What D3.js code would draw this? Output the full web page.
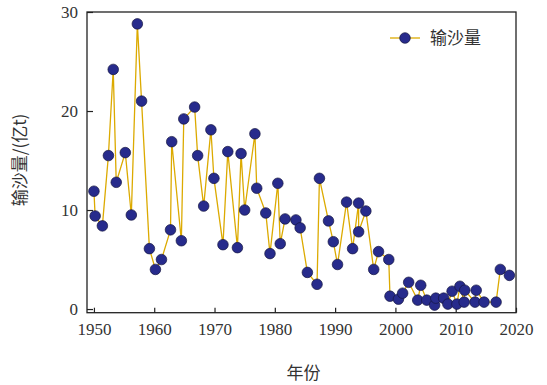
<!DOCTYPE html>
<html>
<head>
<meta charset="utf-8">
<script src="https://cdn.jsdelivr.net/npm/d3@7"></script>
<style>
  body { margin: 0; background: #fff; }
  text { fill: #333; }
</style>
</head>
<body>
<div id="app"></div>
<script>
// 年份（按图读取，含小数位置）
const years = [
  1950.0, 1950.2, 1951.4, 1952.4, 1953.2, 1953.7, 1955.2, 1956.2, 1957.2, 1957.9,
  1959.2, 1960.2, 1961.2, 1962.7, 1962.9, 1964.5, 1964.9, 1966.7, 1967.2, 1968.2,
  1969.4, 1969.9, 1971.4, 1972.2, 1973.8, 1974.4, 1975.0, 1976.7, 1977.0, 1978.5,
  1979.2, 1980.5, 1980.9, 1981.7, 1983.5, 1984.2, 1985.4, 1987.0, 1987.4, 1988.9,
  1989.7, 1990.4, 1991.9, 1992.9, 1993.9, 1993.9, 1995.1, 1996.4, 1997.2, 1998.9,
  1999.1, 2000.5, 2001.2, 2002.2, 2003.7, 2004.2, 2005.2, 2006.5, 2006.7, 2008.0,
  2008.7, 2009.4, 2010.2, 2010.7, 2011.4, 2011.5, 2013.2, 2013.4, 2014.7, 2016.7,
  2017.4, 2018.9
];
// 输沙量（亿t）
const sediment = [
  11.9, 9.4, 8.4, 15.5, 24.2, 12.8, 15.8, 9.5, 28.8, 21.0,
  6.1, 4.0, 5.0, 8.0, 16.9, 6.9, 19.2, 20.4, 15.5, 10.4,
  18.1, 13.2, 6.5, 15.9, 6.2, 15.7, 10.0, 17.7, 12.2, 9.7,
  5.6, 12.7, 6.6, 9.1, 9.0, 8.2, 3.7, 2.5, 13.2, 8.9,
  6.8, 4.5, 10.8, 6.1, 10.7, 7.8, 9.9, 4.0, 5.8, 5.0,
  1.3, 1.0, 1.6, 2.7, 0.9, 2.4, 0.9, 0.4, 1.1, 1.1,
  0.5, 1.8, 0.5, 2.3, 0.7, 1.9, 0.7, 1.9, 0.7, 0.7,
  4.0, 3.4
];
const xTicks = [1950, 1960, 1970, 1980, 1990, 2000, 2010, 2020];
const yTicks = [0, 10, 20, 30];
const seriesName = "输沙量";
const xTitle = "年份";
const yTitle = "输沙量/(亿t)";

const width = 547, height = 385;
const plot = { left: 87, right: 516, top: 12, bottom: 312.7 };

const data = years.map((y, i) => ({ year: y, value: sediment[i] }));

const svg = d3.select("#app").append("svg")
  .attr("width", width)
  .attr("height", height);

const x = d3.scaleLinear().domain([1948.85, 2020]).range([plot.left, plot.right]);
const y = d3.scaleLinear().domain([-0.37, 30]).range([plot.bottom, plot.top]);

const serif = "'Liberation Serif', 'DejaVu Serif', serif";
const cjk = "'Noto Sans CJK SC', sans-serif";

// 坐标轴（刻度朝内）
const xAxis = svg.append("g")
  .attr("transform", `translate(0,${plot.bottom})`)
  .call(d3.axisBottom(x).tickValues(xTicks).tickFormat(d3.format("d"))
    .tickSizeInner(-5).tickSizeOuter(0).tickPadding(10));
const yAxis = svg.append("g")
  .attr("transform", `translate(${plot.left},0)`)
  .call(d3.axisLeft(y).tickValues(yTicks).tickSizeInner(-6).tickSizeOuter(0).tickPadding(9));

[xAxis, yAxis].forEach(g => {
  g.select(".domain").remove();
  g.selectAll(".tick line").attr("stroke", "#222").attr("stroke-width", 1.2);
  g.selectAll(".tick text")
    .attr("fill", "#333")
    .style("font-family", serif)
    .style("font-size", "17px");
});

// 外框
svg.append("rect")
  .attr("x", plot.left).attr("y", plot.top)
  .attr("width", plot.right - plot.left)
  .attr("height", plot.bottom - plot.top)
  .attr("fill", "none")
  .attr("stroke", "#222")
  .attr("stroke-width", 1.3);

// 折线
const line = d3.line().x(d => x(d.year)).y(d => y(d.value));
svg.append("path")
  .datum(data)
  .attr("d", line)
  .attr("fill", "none")
  .attr("stroke", "#dcaa00")
  .attr("stroke-width", 1.3);

// 数据点
svg.append("g")
  .selectAll("circle")
  .data(data)
  .join("circle")
  .attr("cx", d => x(d.year))
  .attr("cy", d => y(d.value))
  .attr("r", 5.3)
  .attr("fill", "#272b8c")
  .attr("stroke", "#161640")
  .attr("stroke-width", 0.7);

// 图例
const legend = svg.append("g").attr("transform", "translate(390,38)");
legend.append("line")
  .attr("x1", 0).attr("x2", 30)
  .attr("stroke", "#dcaa00").attr("stroke-width", 1.3);
legend.append("circle")
  .attr("cx", 15).attr("r", 5.3)
  .attr("fill", "#272b8c").attr("stroke", "#161640").attr("stroke-width", 0.7);
legend.append("text")
  .attr("x", 40).attr("dy", "0.35em")
  .style("font-family", cjk).style("font-size", "17px")
  .text(seriesName);

// 轴标题
svg.append("text")
  .attr("x", (plot.left + plot.right) / 2 + 2)
  .attr("y", 373)
  .attr("text-anchor", "middle")
  .attr("dy", "0.35em")
  .style("font-family", cjk).style("font-size", "17px")
  .text(xTitle);

svg.append("text")
  .attr("transform", "translate(20,160) rotate(-90)")
  .attr("text-anchor", "middle")
  .attr("dy", "0.35em")
  .style("font-family", cjk).style("font-size", "17px")
  .text(yTitle);
</script>
</body>
</html>
